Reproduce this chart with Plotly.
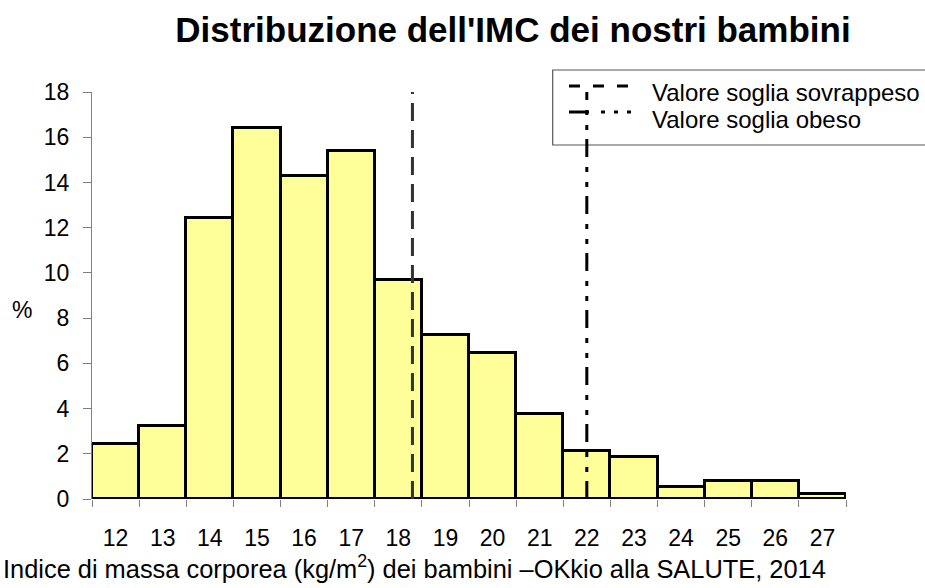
import plotly.graph_objects as go

# ---- data ----
bmi_classes = [12, 13, 14, 15, 16, 17, 18, 19, 20, 21, 22, 23, 24, 25, 26, 27]
percent = [2.43, 3.21, 12.41, 16.40, 14.30, 15.40, 9.70, 7.26, 6.46, 3.77, 2.14, 1.84, 0.51, 0.78, 0.78, 0.22]
y_ticks = [0, 2, 4, 6, 8, 10, 12, 14, 16, 18]
soglia_sovrappeso = 18.3
soglia_obeso = 22.0
legend_labels = ["Valore soglia sovrappeso", "Valore soglia obeso"]

FONT = "Liberation Sans, Arial, sans-serif"

W, H = 925, 588
L, R, T, B = 92, 79, 92, 89
pw = W - L - R
ph = H - T - B

def px_x(px):
    return (px - L) / pw

def px_y(py):
    return (H - B - py) / ph

x_lo = bmi_classes[0] - 0.5
x_hi = bmi_classes[-1] + 0.5
edges = [c - 0.5 for c in bmi_classes] + [x_hi]

fig = go.Figure()
fig.add_trace(go.Bar(
    x=bmi_classes, y=percent, width=1.0,
    marker=dict(color="#FFFF99", line=dict(color="black", width=3)),
    showlegend=False, hoverinfo="x+y",
))
fig.add_trace(go.Scatter(
    x=[soglia_sovrappeso, soglia_sovrappeso], y=[y_ticks[0], y_ticks[-1]],
    mode="lines", name=legend_labels[0], showlegend=False,
    line=dict(color="#333333", width=3, dash="18px,9px"),
))
fig.add_trace(go.Scatter(
    x=[soglia_obeso, soglia_obeso], y=[y_ticks[0], y_ticks[-1]],
    mode="lines", name=legend_labels[1], showlegend=False,
    line=dict(color="black", width=3, dash="18px,9px,5px,10px,5px,10px"),
))

shapes = [
    dict(type="rect", xref="paper", yref="paper",
         x0=px_x(552.7), x1=px_x(960), y0=px_y(145), y1=px_y(70),
         line=dict(color="#555555", width=1.2), fillcolor="rgba(0,0,0,0)", layer="below"),
    dict(type="line", xref="paper", yref="paper",
         x0=px_x(569), x1=px_x(631), y0=px_y(86), y1=px_y(86),
         line=dict(color="black", width=3, dash="11px,13px")),
    dict(type="line", xref="paper", yref="paper",
         x0=px_x(569), x1=px_x(634), y0=px_y(112), y1=px_y(112),
         line=dict(color="black", width=3, dash="20px,12px,4px,9px,4px,9px,4px")),
]

annotations = [
    dict(text=legend_labels[0], xref="paper", yref="paper", x=px_x(650), y=px_y(93),
         xanchor="left", yanchor="middle", showarrow=False,
         font=dict(family=FONT, size=24, color="black")),
    dict(text=legend_labels[1], xref="paper", yref="paper", x=px_x(650), y=px_y(119),
         xanchor="left", yanchor="middle", showarrow=False,
         font=dict(family=FONT, size=24, color="black")),
    dict(text="%", xref="paper", yref="paper", x=px_x(22), y=px_y(310),
         xanchor="center", yanchor="middle", showarrow=False,
         font=dict(family=FONT, size=23, color="black")),
    dict(text="Indice di massa corporea (kg/m<sup>2</sup>) dei bambini \u2013OKkio alla SALUTE, 2014",
         xref="paper", yref="paper", x=px_x(1), y=px_y(567),
         xanchor="left", yanchor="middle", showarrow=False,
         font=dict(family=FONT, size=25.4, color="black")),
]

fig.update_layout(
    width=W, height=H,
    margin=dict(l=L, r=R, t=T, b=B),
    paper_bgcolor="white", plot_bgcolor="white",
    bargap=0,
    font=dict(family=FONT, size=23, color="black"),
    title=dict(text="<b>Distribuzione dell'IMC dei nostri bambini</b>",
               x=513 / W, xanchor="center", xref="container",
               y=1 - 30 / H, yanchor="middle", yref="container",
               font=dict(family=FONT, size=35, color="black")),
    shapes=shapes,
    annotations=annotations,
    xaxis=dict(
        range=[x_lo, x_hi], tickmode="array", tickvals=bmi_classes,
        ticktext=[str(c) for c in bmi_classes],
        ticks="", showgrid=False, zeroline=False, showline=False,
        ticklabelstandoff=23,
        tickfont=dict(family=FONT, size=23, color="black"),
        minor=dict(tickmode="array", tickvals=edges, ticks="outside",
                   ticklen=7, tickcolor="#808080", tickwidth=1, showgrid=False),
    ),
    yaxis=dict(
        range=[y_ticks[0], y_ticks[-1]], tickmode="array", tickvals=y_ticks,
        ticks="outside", ticklen=8, tickcolor="#808080", tickwidth=1,
        showline=True, linecolor="#808080", linewidth=1,
        showgrid=False, zeroline=False, ticklabelstandoff=9,
        tickfont=dict(family=FONT, size=23, color="black"),
    ),
)

fig.write_html("out.html",
               config={"displayModeBar": False},
               post_script="document.body.style.margin='0';document.body.style.overflow='hidden';")
